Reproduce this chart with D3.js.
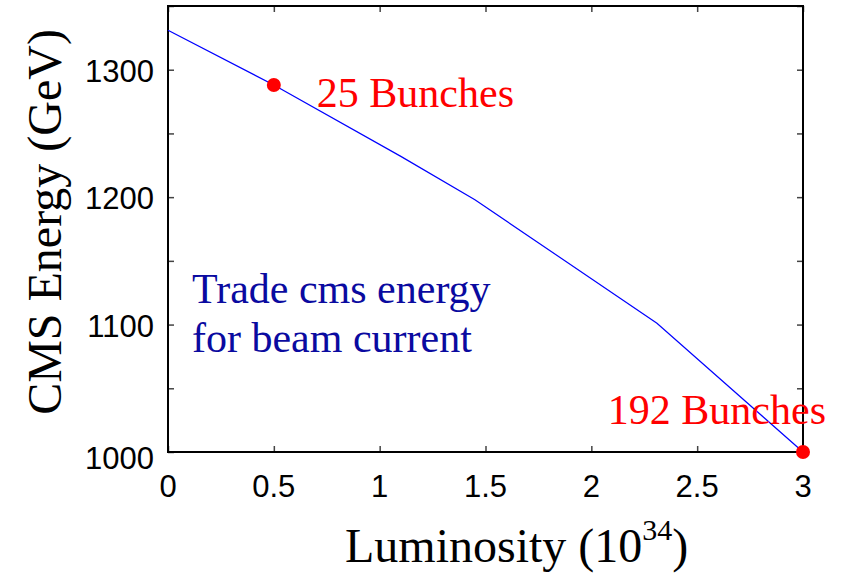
<!DOCTYPE html>
<html>
<head>
<meta charset="utf-8">
<script src="https://cdn.jsdelivr.net/npm/d3@7"></script>
<style>
body { margin: 0; background: #fff; }
svg { display: block; }
</style>
</head>
<body>
<svg id="chart"></svg>
<script>
// curve: luminosity (10^34) vs CMS energy (GeV)
const lumi = [0, 0.5, 1.1, 1.45, 2.31, 3];
const energy = [1331, 1288, 1232, 1198, 1101, 1000];

// marked operating points
const markLumi = [0.5, 3];
const markEnergy = [1288, 1000];
const markText = ["25 Bunches", "192 Bunches"];

const xTicks = [0, 0.5, 1, 1.5, 2, 2.5, 3];
const xTickLabels = ["0", "0.5", "1", "1.5", "2", "2.5", "3"];
const yTicks = [1000, 1100, 1200, 1300];
const yMinor = [1000, 1050, 1100, 1150, 1200, 1250, 1300, 1350];

const margin = {top: 6, right: 43, bottom: 128, left: 168},
    svgWidth = 846,
    svgHeight = 580,
    width = svgWidth - margin.left - margin.right,
    height = svgHeight - margin.top - margin.bottom;

const serif = "'Liberation Serif', 'Times New Roman', serif";
const sans = "'Liberation Sans', Arial, sans-serif";

const chart = d3.select('#chart')
    .attr("width", svgWidth)
    .attr("height", svgHeight);

const g = chart.append("g")
    .attr("transform", `translate(${margin.left},${margin.top})`);

var xScale = d3.scaleLinear().domain([0, 3]).range([0, width]);
var yScale = d3.scaleLinear().domain([1000, 1350]).range([height, 0]);

// inward ticks on all four sides
g.append("g").attr("transform", `translate(0,${height})`)
    .call(d3.axisTop(xScale).tickValues(xTicks).tickSize(6).tickFormat(""));
g.append("g")
    .call(d3.axisBottom(xScale).tickValues(xTicks).tickSize(6).tickFormat(""));
g.append("g")
    .call(d3.axisRight(yScale).tickValues(yMinor).tickSize(6).tickFormat(""));
g.append("g").attr("transform", `translate(${width},0)`)
    .call(d3.axisLeft(yScale).tickValues(yMinor).tickSize(6).tickFormat(""));
g.selectAll(".domain").remove();
g.selectAll(".tick line").attr("stroke", "#444").attr("stroke-width", 1.5);

// tick labels
g.append("g").selectAll("text")
    .data(xTicks)
    .enter().append("text")
    .attr("x", d => xScale(d))
    .attr("y", height + 45)
    .attr("text-anchor", "middle")
    .style("font-family", sans)
    .style("font-size", "31px")
    .text((d, i) => xTickLabels[i]);

g.append("g").selectAll("text")
    .data(yTicks)
    .enter().append("text")
    .attr("x", -14)
    .attr("y", d => yScale(d) + (d == 1000 ? 17 : 12))
    .attr("text-anchor", "end")
    .style("font-family", sans)
    .style("font-size", "31px")
    .text(d => d);

// frame
g.append("rect")
    .attr("width", width).attr("height", height)
    .attr("fill", "none").attr("stroke", "#000").attr("stroke-width", 2);

var valueline = d3.line()
    .x(function(d){ return xScale(d[0]); })
    .y(function(d){ return yScale(d[1]); })
    .curve(d3.curveLinear);

g.append("path")
    .datum(lumi.map((d, i) => [d, energy[i]]))
    .attr("d", valueline)
    .attr("fill", "none")
    .attr("stroke", "#0000ff")
    .attr("stroke-width", 1.2);

g.append("g").selectAll("circle")
    .data(markLumi)
    .enter().append("circle")
    .attr("cx", d => xScale(d))
    .attr("cy", (d, i) => yScale(markEnergy[i]))
    .attr("r", 7)
    .attr("fill", "#ff0000");

g.append("text")
    .attr("x", xScale(markLumi[0]) + 43)
    .attr("y", yScale(markEnergy[0]) + 22)
    .style("font-family", serif).style("font-size", "42px")
    .attr("fill", "#ff0000")
    .text(markText[0]);

g.append("text")
    .attr("x", xScale(markLumi[1]) + 23)
    .attr("y", yScale(markEnergy[1]) - 28)
    .attr("text-anchor", "end")
    .style("font-family", serif).style("font-size", "42px")
    .attr("fill", "#ff0000")
    .text(markText[1]);

g.append("text")
    .attr("x", 24).attr("y", 297)
    .style("font-family", serif).style("font-size", "42px")
    .attr("fill", "#0a0aa0")
    .text("Trade cms energy");
g.append("text")
    .attr("x", 24).attr("y", 346)
    .style("font-family", serif).style("font-size", "42px")
    .attr("fill", "#0a0aa0")
    .text("for beam current");

// axis titles
const xt = chart.append("text")
    .attr("x", 345).attr("y", 562)
    .style("font-family", serif).style("font-size", "48px")
    .attr("fill", "#000");
xt.append("tspan").text("Luminosity (10");
xt.append("tspan").attr("dy", -22).style("font-size", "30px").text("34");
xt.append("tspan").attr("dy", 22).text(")");

chart.append("text")
    .attr("transform", "translate(61,222) rotate(-90)")
    .attr("text-anchor", "middle")
    .style("font-family", serif).style("font-size", "48px")
    .attr("fill", "#000")
    .text("CMS Energy (GeV)");
</script>
</body>
</html>
